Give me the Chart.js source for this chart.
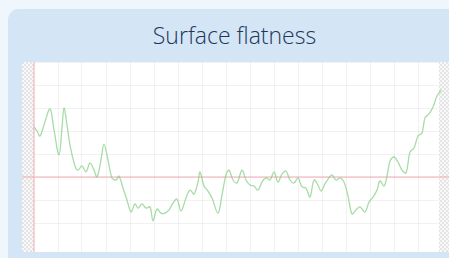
<!DOCTYPE html>
<html>
<head>
<meta charset="utf-8">
<script src="https://cdn.jsdelivr.net/npm/chart.js@4.4.0/dist/chart.umd.min.js"></script>
<style>
  html, body { margin: 0; padding: 0; }
  body { width: 449px; height: 258px; background: #eff6fc; overflow: hidden; position: relative; font-family: "Open Sans", Lato, sans-serif; }
  .card { position: absolute; left: 8px; top: 9px; width: 460px; height: 260px; background: #d4e5f6; border-radius: 11px; }
  .title { position: absolute; left: 14px; width: 441px; top: 24px; line-height: 23px; text-align: center; font-size: 23px; font-weight: 300; color: #22365a; }
  .plot { position: absolute; left: 22px; top: 62px; width: 427px; height: 190px; background: #fff; }
</style>
</head>
<body>
<div class="card"></div>
<div class="title">Surface flatness</div>
<div class="plot"><canvas id="chart-flatness"></canvas></div>
<script>
// distance along the surface and deviation
var distances = [0, 3, 6, 10, 16, 20, 25, 28, 30, 33, 36, 41, 44, 48, 52, 56, 60, 63, 67, 70,
    74, 78, 82, 85, 89, 93, 97, 101, 104, 108, 112, 116, 119, 123, 127, 131, 135, 139, 143, 147,
    152, 156, 160, 164, 166, 170, 174, 178, 184, 188, 192, 195, 199, 203, 208, 212, 216, 220, 224, 228,
    232, 236, 240, 244, 248, 252, 256, 260, 264, 268, 272, 276, 280, 284, 287, 291, 295, 298, 302, 306,
    310, 314, 318, 322, 326, 331, 335, 339, 343, 346, 350, 353, 356, 360, 364, 368, 372, 376, 380, 384,
    388, 391, 395, 399, 403, 407];
var deviation = [2.17, 2.0, 1.78, 2.26, 2.96, 2.04, 0.96, 2.13, 3.0, 2.26, 1.39, 0.48, 0.30, 0.48, 0.22, 0.61, 0.30, 0, 0.74, 1.43,
    0.74, -0.04, -0.13, 0.04, -0.48, -1.0, -1.52, -1.17, -1.35, -1.17, -1.35, -1.30, -1.91, -1.39, -1.57, -1.57, -1.43, -1.13, -0.96, -1.48,
    -0.91, -0.57, -0.74, -0.22, 0.22, -0.39, -0.61, -0.91, -1.57, -0.78, 0.09, 0.30, -0.13, -0.26, 0.30, -0.13, -0.35, -0.39, -0.57, -0.22,
    -0.04, -0.13, 0.22, -0.22, 0.13, 0.26, -0.13, -0.26, -0.04, -0.43, -0.48, -0.87, -0.13, -0.35, -0.61, -0.30, -0.04, 0.09, -0.13, -0.04,
    -0.22, -0.83, -1.61, -1.43, -1.30, -1.52, -1.09, -0.87, -0.57, -0.17, -0.39, 0.04, 0.70, 0.87, 0.65, 0.30, 0.17, 1.09, 1.26, 1.78,
    1.91, 2.57, 2.74, 3.04, 3.52, 3.78];
var xMin = -12, xMax = 415, bandEnd = 405;
var yMin = -3.26, yMax = 5;

function hatch() {
    var c = document.createElement('canvas');
    c.width = 4; c.height = 4;
    var g = c.getContext('2d');
    g.fillStyle = '#f8f8f8';
    g.fillRect(0, 0, 4, 4);
    g.fillStyle = '#e4e4e4';
    g.fillRect(0, 0, 2, 2);
    g.fillRect(2, 2, 2, 2);
    return c;
}

// hatched margins and red reference lines
var frame = {
    id: 'frame',
    beforeDatasetsDraw: function(chart) {
        var ctx = chart.ctx, a = chart.chartArea;
        var x = chart.scales.x, y = chart.scales.y;
        ctx.save();
        ctx.fillStyle = ctx.createPattern(hatch(), 'repeat');
        ctx.fillRect(a.left, a.top, x.getPixelForValue(0) - a.left, a.bottom - a.top);
        ctx.fillRect(x.getPixelForValue(bandEnd), a.top, a.right - x.getPixelForValue(bandEnd), a.bottom - a.top);
        ctx.strokeStyle = 'rgba(242, 160, 170, 0.6)';
        ctx.lineWidth = 1.5;
        ctx.beginPath();
        ctx.moveTo(a.left, y.getPixelForValue(0));
        ctx.lineTo(a.right, y.getPixelForValue(0));
        ctx.moveTo(x.getPixelForValue(0), a.top);
        ctx.lineTo(x.getPixelForValue(0), a.bottom);
        ctx.stroke();
        ctx.restore();
    }
};

var chart = new Chart(document.getElementById('chart-flatness'), {
    type: 'line',
    data: {
        datasets: [{
            label: 'Flatness',
            data: distances.map((d, i) => { return { x: d, y: deviation[i] }; }),
            borderColor: 'rgba(130, 205, 130, 0.7)',
            borderWidth: 1.3,
            pointRadius: 0,
            tension: 0.35,
            fill: false
        }]
    },
    plugins: [frame],
    options: {
        responsive: true,
        maintainAspectRatio: false,
        animation: false,
        layout: { padding: 0 },
        plugins: { legend: { display: false }, tooltip: { enabled: false } },
        scales: {
            x: {
                type: 'linear', min: xMin, max: xMax,
                ticks: { display: false, stepSize: 24 },
                grid: { color: 'rgba(0, 0, 0, 0.05)', drawTicks: false },
                border: { display: false }
            },
            y: {
                min: yMin, max: yMax,
                ticks: { display: false, stepSize: 1 },
                grid: { color: 'rgba(0, 0, 0, 0.05)', drawTicks: false },
                border: { display: false }
            }
        }
    }
});
</script>
</body>
</html>
